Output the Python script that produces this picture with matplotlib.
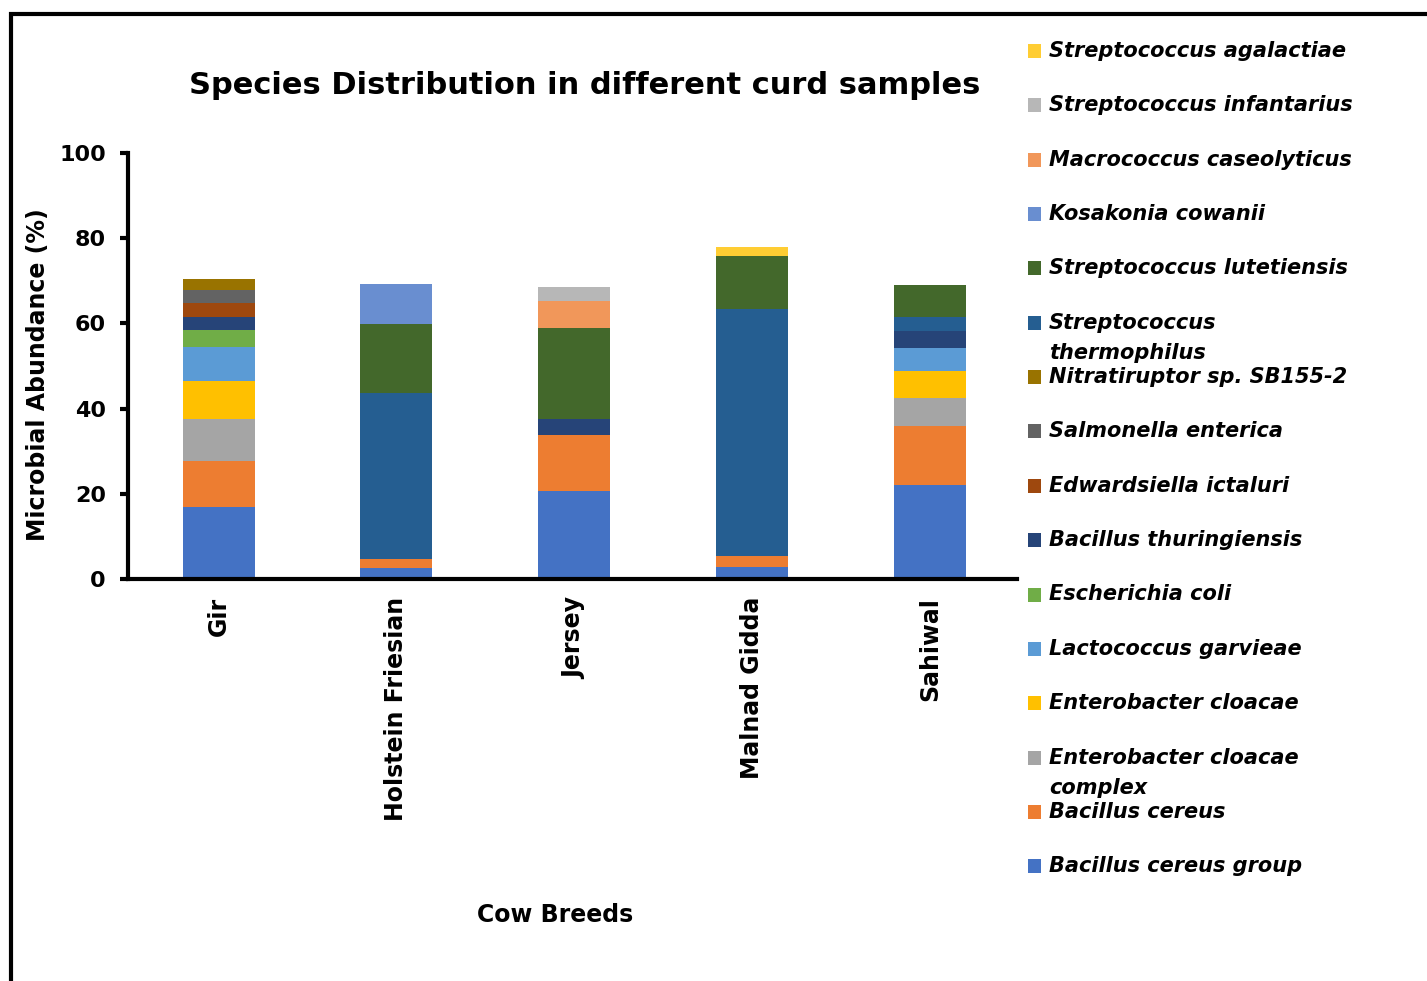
import matplotlib
matplotlib.use("Agg")
import matplotlib.pyplot as plt
from matplotlib.patches import Rectangle
import numpy as np

W, H = 1427, 981

breeds = ["Gir", "Holstein Friesian", "Jersey", "Malnad Gidda", "Sahiwal"]

# Stacked from bottom to top
species = [
    "Bacillus cereus group",
    "Bacillus cereus",
    "Enterobacter cloacae complex",
    "Enterobacter cloacae",
    "Lactococcus garvieae",
    "Escherichia coli",
    "Bacillus thuringiensis",
    "Edwardsiella ictaluri",
    "Salmonella enterica",
    "Nitratiruptor sp. SB155-2",
    "Streptococcus thermophilus",
    "Streptococcus lutetiensis",
    "Kosakonia cowanii",
    "Macrococcus caseolyticus",
    "Streptococcus infantarius",
    "Streptococcus agalactiae",
]

bacillus_cereus_group = [17.0, 2.5, 20.7, 2.9, 22.1]
bacillus_cereus = [10.6, 2.2, 13.0, 2.5, 13.9]
enterobacter_cloacae_complex = [10.0, 0, 0, 0, 6.6]
enterobacter_cloacae = [8.9, 0, 0, 0, 6.3]
lactococcus_garvieae = [8.0, 0, 0, 0, 5.3]
escherichia_coli = [4.0, 0, 0, 0, 0]
bacillus_thuringiensis = [3.1, 0, 3.8, 0, 3.9]
edwardsiella_ictaluri = [3.2, 0, 0, 0, 0]
salmonella_enterica = [3.1, 0, 0, 0, 0]
nitratiruptor = [2.5, 0, 0, 0, 0]
streptococcus_thermophilus = [0, 38.9, 0, 58.0, 3.3]
streptococcus_lutetiensis = [0, 16.3, 21.4, 12.5, 7.5]
kosakonia_cowanii = [0, 9.3, 0, 0, 0]
macrococcus_caseolyticus = [0, 0, 6.4, 0, 0]
streptococcus_infantarius = [0, 0, 3.2, 0, 0]
streptococcus_agalactiae = [0, 0, 0, 2.0, 0]

values = [
    bacillus_cereus_group, bacillus_cereus, enterobacter_cloacae_complex,
    enterobacter_cloacae, lactococcus_garvieae, escherichia_coli,
    bacillus_thuringiensis, edwardsiella_ictaluri, salmonella_enterica,
    nitratiruptor, streptococcus_thermophilus, streptococcus_lutetiensis,
    kosakonia_cowanii, macrococcus_caseolyticus, streptococcus_infantarius,
    streptococcus_agalactiae,
]

colors = [
    "#4472C4", "#ED7D31", "#A5A5A5", "#FFC000", "#5B9BD5", "#70AD47",
    "#264478", "#9E480E", "#636363", "#997300", "#255E91", "#43682B",
    "#698ED0", "#F1975A", "#B7B7B7", "#FFCD33",
]

# Legend labels, with manual line breaks where the text wraps
legend_labels = {
    "Streptococcus thermophilus": ["Streptococcus", "thermophilus"],
    "Enterobacter cloacae complex": ["Enterobacter cloacae", "complex"],
}

plt.rcParams["font.family"] = ["DejaVu Sans"]

fig = plt.figure(figsize=(W / 100, H / 100), dpi=100)


def fx(x):
    return x / W


def fy(y):
    return 1 - y / H


ax = fig.add_axes([fx(128), fy(579), fx(1017) - fx(128), fy(153) - fy(579)])

x = np.arange(len(breeds))
bottom = np.zeros(len(breeds))
for vals, col in zip(values, colors):
    v = np.array(vals, dtype=float)
    ax.bar(x + 0.01, v, width=0.405, bottom=bottom, color=col, linewidth=0)
    bottom += v

ax.set_xlim(-0.5, len(breeds) - 0.5)
ax.set_ylim(0, 100)
ax.set_yticks([0, 20, 40, 60, 80, 100])
ax.set_xticks(x + 0.01)
ax.set_xticklabels(breeds, rotation=90, fontsize=17, fontweight="bold")
for lab in ax.get_yticklabels():
    lab.set_fontsize(16)
    lab.set_fontweight("bold")

for s in ["top", "right"]:
    ax.spines[s].set_visible(False)
for s in ["left", "bottom"]:
    ax.spines[s].set_linewidth(3)
ax.tick_params(axis="y", direction="out", length=6, width=3, pad=10)
ax.tick_params(axis="x", length=0, pad=13)

ax.set_ylabel("Microbial Abundance (%)", fontsize=17, fontweight="bold")
ax.yaxis.set_label_coords((50 - 128) / (1017 - 128), 0.48)

fig.text(fx(555), fy(915), "Cow Breeds", fontsize=17, fontweight="bold",
         ha="center", va="center")
fig.text(fx(585), fy(85), "Species Distribution in different curd samples",
         fontsize=22, fontweight="bold", ha="center", va="center")

# Legend, top entry is the last stacked series
y0, step = 51, 54.35
for i, (name, col) in enumerate(zip(species[::-1], colors[::-1])):
    yc = y0 + i * step
    fig.add_artist(Rectangle((fx(1028), fy(yc + 7)), 13 / W, 14 / H,
                             transform=fig.transFigure, facecolor=col,
                             edgecolor="none"))
    lines = legend_labels.get(name, [name])
    for j, line in enumerate(lines):
        fig.text(fx(1049), fy(yc + j * 30), line, fontsize=15,
                 fontweight="bold", fontstyle="italic", ha="left", va="center")

# Outer frame around the figure
fig.add_artist(Rectangle((fx(11), fy(H + 20)), 1.1, (H + 20 - 14) / H,
                         transform=fig.transFigure, fill=False,
                         edgecolor="black", linewidth=3, clip_on=False))

fig.savefig("out.png", dpi=100)
